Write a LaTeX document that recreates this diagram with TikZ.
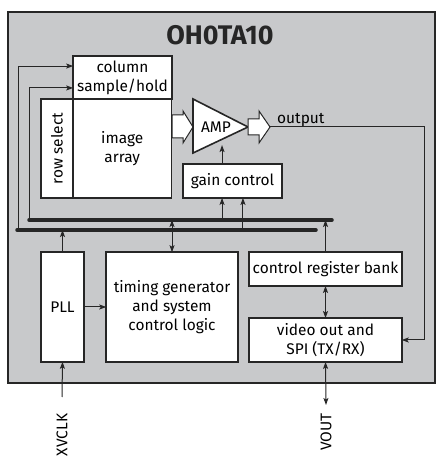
\documentclass[tikz,border=0pt]{standalone}
\usepackage{fontspec}
\setmainfont{Fira Sans}
\usetikzlibrary{arrows.meta}
\usetikzlibrary{positioning}
\definecolor{chipgray}{RGB}{200,201,203}

\begin{document}
\begin{tikzpicture}[x=1bp,y=1bp,
    blk/.style={draw=black!85, fill=white, line width=1.6bp, inner sep=0pt, outer sep=0pt,
      align=center, font=\fontsize{15.5}{19}\selectfont},
    lbl/.style={inner sep=0pt, font=\fontsize{15.5}{19}\selectfont},
    bus/.style={line width=3.5bp, line cap=round, draw=black!85},
    sig/.style={line width=1bp, draw=black!85, -{Stealth[length=7bp,width=5bp,inset=1.5bp]}},
    sigb/.style={sig, {Stealth[length=7bp,width=5bp,inset=1.5bp]}-{Stealth[length=7bp,width=5bp,inset=1.5bp]}},
    fat/.style={draw=black!85, fill=white, line width=1bp, line join=miter}]
  \useasboundingbox (0,0) rectangle (444,472);
  \draw[fill=chipgray, line width=2bp, draw=black!85] (8,89) rectangle (435,460);
  \node[font=\fontsize{27}{30}\selectfont\bfseries, text=black!85] (title) at (220,437) {OH0TA10};

  % sensor core
  \node[blk, minimum width=99, minimum height=43] (col) at (122.5,394.5) {column\\sample/hold};
  \node[blk, minimum width=32, minimum height=99] (row) at (57,323.5) {};
  \node[lbl, rotate=90] (rowtxt) at (row) {row select};
  \node[blk, minimum width=99, minimum height=99, right=0pt of row] (img) {image\\array};
  \draw[fat] (172,357) -- (183,357) -- (183,361) -- (193,345) -- (183,329) -- (183,334) -- (172,334) -- cycle;
  \draw[fat, line width=1.6bp] (193,373) -- (248,345) -- (193,319) -- cycle;
  \node[lbl] (amp) at (216,345) {AMP};
  \draw[fat] (248,353) -- (259,353) -- (259,361) -- (270,345) -- (259,329) -- (259,337) -- (248,337) -- cycle;
  \coordinate (otip) at (270,345);
  \node[lbl, anchor=base west] (out) at (277,348) {output};
  \node[blk, minimum width=99, minimum height=34] (gain) at (232.5,291) {gain control};

  % control side
  \node[blk, minimum width=43, minimum height=110] (pll) at (62.5,165) {PLL};
  \node[blk, minimum width=132, minimum height=110] (tim) at (172,165) {timing generator\\and system\\control logic};
  \node[blk, minimum width=153, minimum height=34] (reg) at (325.5,203) {control register bank};
  \node[blk, minimum width=153, minimum height=44] (vid) at (325.5,132) {video out and\\SPI (TX/RX)};

  \node[lbl, rotate=90] (xvclk) at (62,37) {XVCLK};
  \node[lbl, rotate=90] (vout) at (326,40) {VOUT};
  \coordinate (xin) at (62,75);
  \coordinate (vin) at (326,67);

  % buses
  \coordinate (b1w) at (29,252);
  \coordinate (b1e) at (332,252);
  \coordinate (b2w) at (17,242);
  \coordinate (b2e) at (316,242);
  \draw[bus] (b1w) -- (b1e);
  \draw[bus] (b2w) -- (b2e);

  \coordinate (g1) at ([xshift=-10.5]gain.south);
  \coordinate (g2) at ([xshift=10.5]gain.south);
  \draw[sig] ([xshift=1]b1w) |- ([yshift=-10.5]col.west);
  \draw[sig] ([xshift=1.5]b2w) |- ([yshift=11.5]col.west);
  \draw[sig] (g1 |- b1w) -- (g1);
  \draw[sig] (g2 |- b2w) -- (g2);
  \draw[sig] ([xshift=-10.5]gain.north) -- ++(0,19);
  \draw[sig] (pll.north) -- (pll.north |- b2w);
  \draw[sigb] (tim.north) -- (tim.north |- b1w);
  \draw[sig] (reg.north) -- (reg.north |- b1w);
  \draw[sigb] (reg.south) -- (vid.north);
  \draw[sig] (pll.east) -- (tim.west);
  \draw[sig] (otip) -- ++(154,0) |- (vid.east);
  \draw[sig] (xin) -- (pll.south);
  \draw[sigb] (vin) -- (vid.south);
\end{tikzpicture}
\end{document}
